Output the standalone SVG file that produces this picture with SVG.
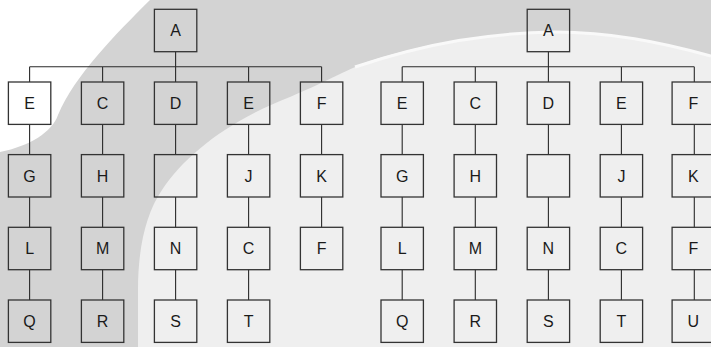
<svg xmlns="http://www.w3.org/2000/svg" width="711" height="347" viewBox="0 0 711 347">
<style>
.box{fill:none;stroke:#333;stroke-width:1.3}
.lbl{font-family:"Liberation Sans",Arial,sans-serif;font-size:16px;fill:#1a1a1a;text-anchor:middle}
.con{stroke:#2a2a2a;stroke-width:1.1;fill:none}
</style>
<g id="background">
<rect x="0" y="0" width="711" height="347" fill="#d3d3d3"/>
<path d="M138,347 L138,290 C138,250 145,215 162,190 C185,155 230,120 290,97 C330,80 350,68 370,61 C430,42 490,33 555,32 C610,32 660,42 711,56 L711,347 Z" fill="#efefef"/>
<path d="M355,67 C430,42 490,33 555,32 C610,32 660,42 711,56" fill="none" stroke="#f9f9f9" stroke-width="3"/>
<path d="M0,0 L150,0 C115,35 75,75 58,115 C52,132 30,146 0,152 Z" fill="#ffffff"/>
</g>
<g id="connectors">
<path class="con" d="M175.6,51.7V66.7 M29.6,66.7H321.6 M29.6,66.7V82 M102.6,66.7V82 M175.6,66.7V82 M248.6,66.7V82 M321.6,66.7V82"/>
<path class="con" d="M29.6,124.4V154.6 M29.6,197V227.3 M29.6,269.7V300"/>
<path class="con" d="M102.6,124.4V154.6 M102.6,197V227.3 M102.6,269.7V300"/>
<path class="con" d="M175.6,124.4V154.6 M175.6,197V227.3 M175.6,269.7V300"/>
<path class="con" d="M248.6,124.4V154.6 M248.6,197V227.3 M248.6,269.7V300"/>
<path class="con" d="M321.6,124.4V154.6 M321.6,197V227.3"/>
<path class="con" d="M548.4,51.7V66.7 M402.2,66.7H694.3 M402.2,66.7V82 M475.3,66.7V82 M548.4,66.7V82 M621.4,66.7V82 M694.3,66.7V82"/>
<path class="con" d="M402.2,124.4V154.6 M402.2,197V227.3 M402.2,269.7V300"/>
<path class="con" d="M475.3,124.4V154.6 M475.3,197V227.3 M475.3,269.7V300"/>
<path class="con" d="M548.4,124.4V154.6 M548.4,197V227.3 M548.4,269.7V300"/>
<path class="con" d="M621.4,124.4V154.6 M621.4,197V227.3 M621.4,269.7V300"/>
<path class="con" d="M694.3,124.4V154.6 M694.3,197V227.3 M694.3,269.7V300"/>
</g>
<g id="L-A"><rect class="box" x="154.4" y="9.3" width="42.4" height="42.4"/><text class="lbl" x="175.6" y="36.3">A</text></g>
<g id="L-B"><rect class="box" x="8.4" y="82" width="42.4" height="42.4"/><text class="lbl" x="29.6" y="109">E</text></g>
<g id="L-C"><rect class="box" x="81.4" y="82" width="42.4" height="42.4"/><text class="lbl" x="102.6" y="109">C</text></g>
<g id="L-D"><rect class="box" x="154.4" y="82" width="42.4" height="42.4"/><text class="lbl" x="175.6" y="109">D</text></g>
<g id="L-E"><rect class="box" x="227.4" y="82" width="42.4" height="42.4"/><text class="lbl" x="248.6" y="109">E</text></g>
<g id="L-F"><rect class="box" x="300.4" y="82" width="42.4" height="42.4"/><text class="lbl" x="321.6" y="109">F</text></g>
<g id="L-G"><rect class="box" x="8.4" y="154.6" width="42.4" height="42.4"/><text class="lbl" x="29.6" y="181.6">G</text></g>
<g id="L-H"><rect class="box" x="81.4" y="154.6" width="42.4" height="42.4"/><text class="lbl" x="102.6" y="181.6">H</text></g>
<g id="L-I"><rect class="box" x="154.4" y="154.6" width="42.4" height="42.4"/></g>
<g id="L-J"><rect class="box" x="227.4" y="154.6" width="42.4" height="42.4"/><text class="lbl" x="248.6" y="181.6">J</text></g>
<g id="L-K"><rect class="box" x="300.4" y="154.6" width="42.4" height="42.4"/><text class="lbl" x="321.6" y="181.6">K</text></g>
<g id="L-L"><rect class="box" x="8.4" y="227.3" width="42.4" height="42.4"/><text class="lbl" x="29.6" y="254.3">L</text></g>
<g id="L-M"><rect class="box" x="81.4" y="227.3" width="42.4" height="42.4"/><text class="lbl" x="102.6" y="254.3">M</text></g>
<g id="L-N"><rect class="box" x="154.4" y="227.3" width="42.4" height="42.4"/><text class="lbl" x="175.6" y="254.3">N</text></g>
<g id="L-O"><rect class="box" x="227.4" y="227.3" width="42.4" height="42.4"/><text class="lbl" x="248.6" y="254.3">C</text></g>
<g id="L-P"><rect class="box" x="300.4" y="227.3" width="42.4" height="42.4"/><text class="lbl" x="321.6" y="254.3">F</text></g>
<g id="L-Q"><rect class="box" x="8.4" y="300" width="42.4" height="42.4"/><text class="lbl" x="29.6" y="327">Q</text></g>
<g id="L-R"><rect class="box" x="81.4" y="300" width="42.4" height="42.4"/><text class="lbl" x="102.6" y="327">R</text></g>
<g id="L-S"><rect class="box" x="154.4" y="300" width="42.4" height="42.4"/><text class="lbl" x="175.6" y="327">S</text></g>
<g id="L-T"><rect class="box" x="227.4" y="300" width="42.4" height="42.4"/><text class="lbl" x="248.6" y="327">T</text></g>
<g id="R-A"><rect class="box" x="527.2" y="9.3" width="42.4" height="42.4"/><text class="lbl" x="548.4" y="36.3">A</text></g>
<g id="R-B"><rect class="box" x="381" y="82" width="42.4" height="42.4"/><text class="lbl" x="402.2" y="109">E</text></g>
<g id="R-C"><rect class="box" x="454.1" y="82" width="42.4" height="42.4"/><text class="lbl" x="475.3" y="109">C</text></g>
<g id="R-D"><rect class="box" x="527.2" y="82" width="42.4" height="42.4"/><text class="lbl" x="548.4" y="109">D</text></g>
<g id="R-E"><rect class="box" x="600.2" y="82" width="42.4" height="42.4"/><text class="lbl" x="621.4" y="109">E</text></g>
<g id="R-F"><rect class="box" x="672.1" y="82" width="42.4" height="42.4"/><text class="lbl" x="693.3" y="109">F</text></g>
<g id="R-G"><rect class="box" x="381" y="154.6" width="42.4" height="42.4"/><text class="lbl" x="402.2" y="181.6">G</text></g>
<g id="R-H"><rect class="box" x="454.1" y="154.6" width="42.4" height="42.4"/><text class="lbl" x="475.3" y="181.6">H</text></g>
<g id="R-I"><rect class="box" x="527.2" y="154.6" width="42.4" height="42.4"/></g>
<g id="R-J"><rect class="box" x="600.2" y="154.6" width="42.4" height="42.4"/><text class="lbl" x="621.4" y="181.6">J</text></g>
<g id="R-K"><rect class="box" x="672.1" y="154.6" width="42.4" height="42.4"/><text class="lbl" x="693.3" y="181.6">K</text></g>
<g id="R-L"><rect class="box" x="381" y="227.3" width="42.4" height="42.4"/><text class="lbl" x="402.2" y="254.3">L</text></g>
<g id="R-M"><rect class="box" x="454.1" y="227.3" width="42.4" height="42.4"/><text class="lbl" x="475.3" y="254.3">M</text></g>
<g id="R-N"><rect class="box" x="527.2" y="227.3" width="42.4" height="42.4"/><text class="lbl" x="548.4" y="254.3">N</text></g>
<g id="R-O"><rect class="box" x="600.2" y="227.3" width="42.4" height="42.4"/><text class="lbl" x="621.4" y="254.3">C</text></g>
<g id="R-P"><rect class="box" x="672.1" y="227.3" width="42.4" height="42.4"/><text class="lbl" x="693.3" y="254.3">F</text></g>
<g id="R-Q"><rect class="box" x="381" y="300" width="42.4" height="42.4"/><text class="lbl" x="402.2" y="327">Q</text></g>
<g id="R-R"><rect class="box" x="454.1" y="300" width="42.4" height="42.4"/><text class="lbl" x="475.3" y="327">R</text></g>
<g id="R-S"><rect class="box" x="527.2" y="300" width="42.4" height="42.4"/><text class="lbl" x="548.4" y="327">S</text></g>
<g id="R-T"><rect class="box" x="600.2" y="300" width="42.4" height="42.4"/><text class="lbl" x="621.4" y="327">T</text></g>
<g id="R-U"><rect class="box" x="672.1" y="300" width="42.4" height="42.4"/><text class="lbl" x="693.3" y="327">U</text></g>
</svg>
